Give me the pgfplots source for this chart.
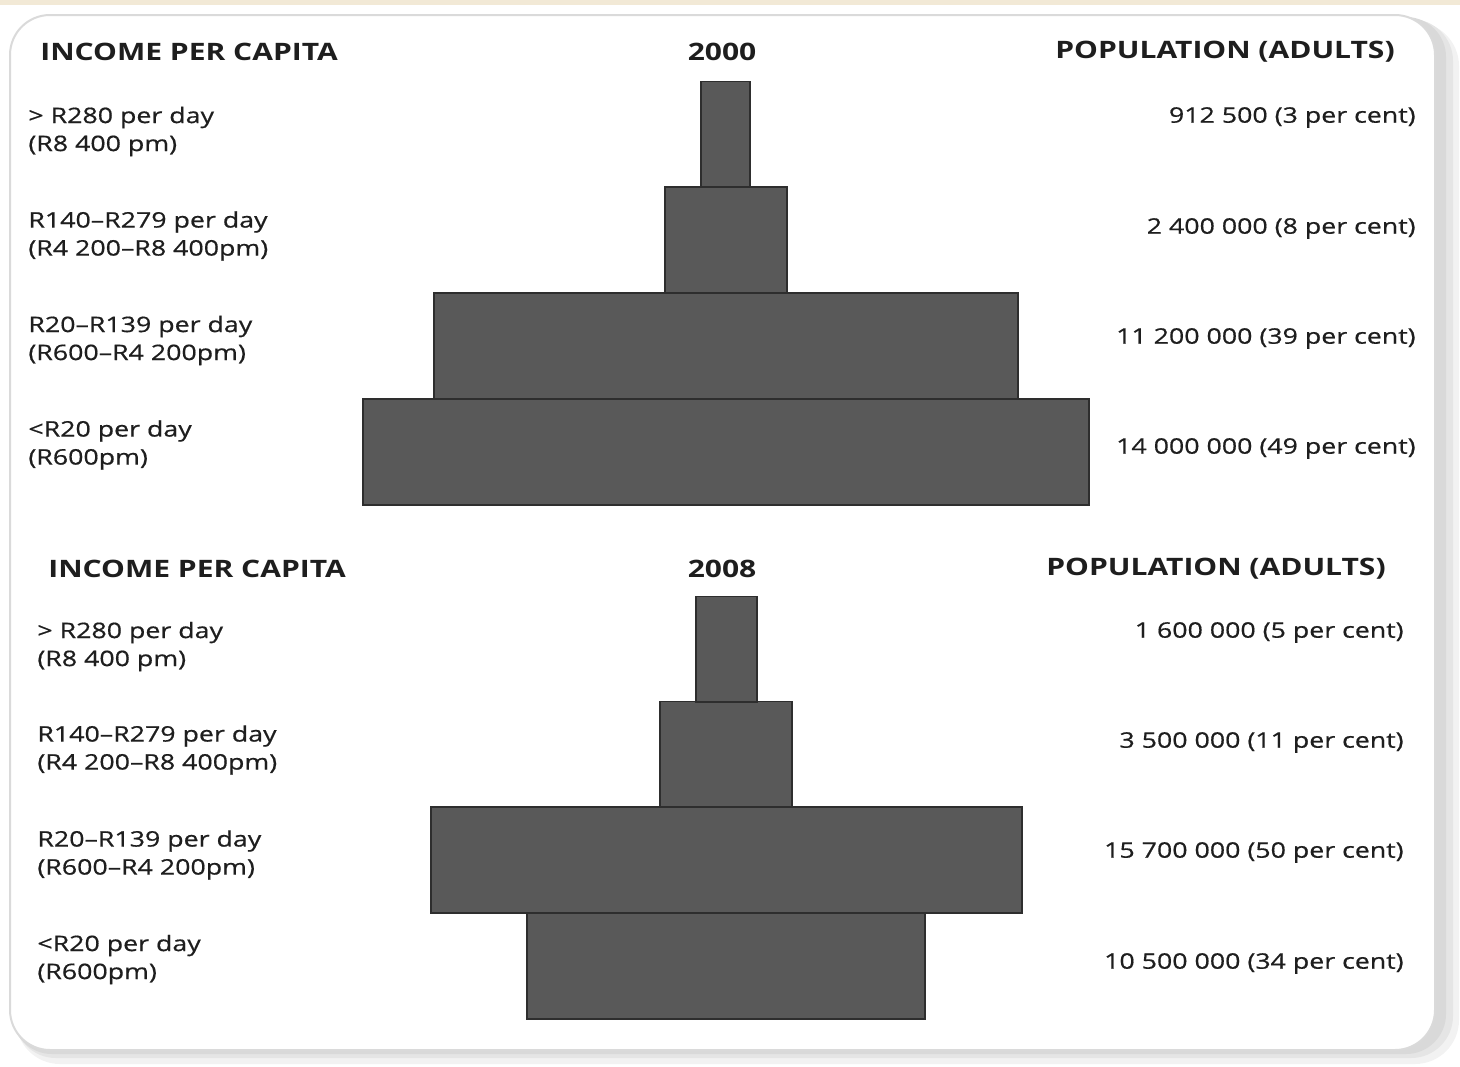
\documentclass[border=0pt]{standalone}
\usepackage{pgfplots}
\pgfplotsset{compat=1.18}
\usepackage{pgfplotstable}
\usepackage{fontspec}
\setmainfont[FakeStretch=1.25]{Open Sans}
\newfontfamily\labelfont[FakeStretch=1.25, FakeBold=0.6, Ligatures=TeX]{Open Sans}
\definecolor{barfill}{HTML}{595959}
\definecolor{bardraw}{HTML}{2E2E2E}
\definecolor{txt}{HTML}{1E1E1E}
\definecolor{beige}{HTML}{F2E9D6}
\definecolor{frameline}{HTML}{DADADA}

% y = vertical centre (px), left = left edge (px), width = bar width (px)
\pgfplotstableread{
y      left  width
134.5  701   49
240    665   122
346    434   584
452    363   726
649.5  696   61
754.5  660   132
860    431   591
966    527   398
}\pyramids

\tikzset{
  hdr/.style={text=txt, inner sep=0pt, font=\bfseries\fontsize{12}{14}\selectfont},
  lft/.style={text=txt, inner sep=0pt, anchor=west, align=left, font=\labelfont\fontsize{10.7}{14}\selectfont},
  rgt/.style={text=txt, inner sep=0pt, anchor=east, font=\labelfont\fontsize{10.7}{14}\selectfont},
}
\pgfplotsset{canvas/.style={
  scale only axis, width=730pt, height=533pt,
  xmin=0, xmax=1460, ymin=0, ymax=1066, y dir=reverse,
  hide axis, clip=false, at={(0,0)}, anchor=south west}}

\begin{document}
\begin{tikzpicture}
% background layer: frame and shadow
\begin{axis}[canvas]
\addplot[draw=none, forget plot] coordinates {(0,0)};
\path (axis cs:0,0) rectangle (axis cs:1460,1066);
\fill[beige] (axis cs:0,0) rectangle (axis cs:1460,5);
\fill[gray!10, rounded corners=22pt] (axis cs:16,22) rectangle (axis cs:1459,1064);
\fill[gray!20, rounded corners=21pt] (axis cs:14,19) rectangle (axis cs:1453,1058);
\fill[gray!30, rounded corners=20pt] (axis cs:12,17) rectangle (axis cs:1446,1054);
\filldraw[fill=white, draw=frameline, line width=1pt, rounded corners=20pt] (axis cs:10,15) rectangle (axis cs:1435,1050);
\end{axis}

% foreground: bars and labels
\begin{axis}[canvas, xbar stacked, bar width=106]
\addplot[draw=none, fill=none, forget plot] table[x=left, y=y] {\pyramids};
\addplot[fill=barfill, draw=bardraw, line width=0.9pt] table[x=width, y=y] {\pyramids};

% headers
\node[hdr, anchor=west] at (axis cs:40,52) {INCOME PER CAPITA};
\node[hdr] at (axis cs:722,52) {2000};
\node[hdr] at (axis cs:1225,52) {POPULATION (ADULTS)};
\node[hdr, anchor=west] at (axis cs:48,569) {INCOME PER CAPITA};
\node[hdr] at (axis cs:722,569) {2008};
\node[hdr] at (axis cs:1216,569) {POPULATION (ADULTS)};

% left labels 2000
\node[lft] at (axis cs:28,131.5) {> R280 per day\\(R8 400 pm)};
\node[lft] at (axis cs:28,236) {R140–R279 per day\\(R4 200–R8 400pm)};
\node[lft] at (axis cs:28,340.5) {R20–R139 per day\\(R600–R4 200pm)};
\node[lft] at (axis cs:28,445) {<R20 per day\\(R600pm)};
% left labels 2008
\node[lft] at (axis cs:37,646.5) {> R280 per day\\(R8 400 pm)};
\node[lft] at (axis cs:37,750) {R140–R279 per day\\(R4 200–R8 400pm)};
\node[lft] at (axis cs:37,855) {R20–R139 per day\\(R600–R4 200pm)};
\node[lft] at (axis cs:37,959.5) {<R20 per day\\(R600pm)};

% right labels
\node[rgt] at (axis cs:1416,117.5) {912 500 (3 per cent)};
\node[rgt] at (axis cs:1416,228.5) {2 400 000 (8 per cent)};
\node[rgt] at (axis cs:1416,338.5) {11 200 000 (39 per cent)};
\node[rgt] at (axis cs:1416,448.5) {14 000 000 (49 per cent)};
\node[rgt] at (axis cs:1404,632.5) {1 600 000 (5 per cent)};
\node[rgt] at (axis cs:1404,742.5) {3 500 000 (11 per cent)};
\node[rgt] at (axis cs:1404,852.5) {15 700 000 (50 per cent)};
\node[rgt] at (axis cs:1404,963.5) {10 500 000 (34 per cent)};
\end{axis}
\end{tikzpicture}
\end{document}
